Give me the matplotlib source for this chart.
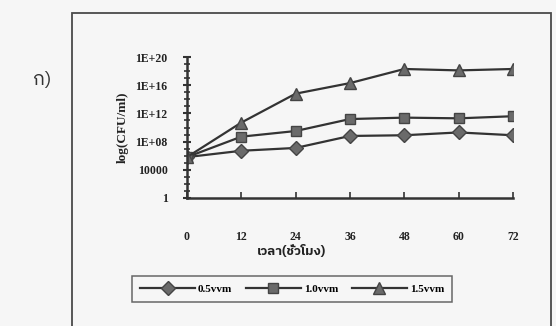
import numpy as np
import matplotlib
matplotlib.use("Agg")
from matplotlib import pyplot as plt
from matplotlib import font_manager
from matplotlib.patches import Rectangle
from matplotlib.ticker import FixedLocator, FixedFormatter, LogLocator, NullFormatter
from fontTools.ttLib import TTFont

# ---------------------------- data ----------------------------
hours = [0, 12, 24, 36, 48, 60, 72]
log_05vvm = [5.8, 6.7, 7.1, 8.8, 8.9, 9.3, 8.9]
log_10vvm = [5.8, 8.7, 9.5, 11.2, 11.4, 11.3, 11.6]
log_15vvm = [5.8, 10.7, 14.8, 16.3, 18.3, 18.1, 18.3]
series_names = ["0.5vvm", "1.0vvm", "1.5vvm"]
ytick_vals = [1, 1e4, 1e8, 1e12, 1e16, 1e20]
ytick_labels = ["1", "10000", "1E+08", "1E+12", "1E+16", "1E+20"]
xlabel = "เวลา(ชั่วโมง)"
ylabel = "log(CFU/ml)"
panel_tag = "ก)"


def find_thai_family():
    # pick an installed font that actually has Thai glyphs
    found = []
    for f in font_manager.fontManager.ttflist:
        try:
            font = TTFont(f.fname, fontNumber=0, lazy=True)
            cmap = font.getBestCmap()
        except Exception:
            continue
        if cmap and ord("ก") in cmap:
            found.append(f.name)
    if not found:
        return "DejaVu Sans"
    for name in found:
        if "Thai" in name and "Looped" not in name:
            return name
    return found[0]


thai = find_thai_family()
serif = ["Liberation Serif", "DejaVu Serif"]
ink = "#333333"
fill = "#6a6a6a"

fig = plt.figure(figsize=(5.56, 3.26), dpi=100)
fig.patch.set_facecolor("#f6f6f6")
W, H = 556.0, 326.0

# outer frame of the panel
fig.patches.append(Rectangle((72 / W, -0.05), (551 - 72) / W, 1.05 - 13 / H,
                             transform=fig.transFigure, fill=False,
                             edgecolor="#4a4a4a", linewidth=1.3))

ax = fig.add_axes([187 / W, 1 - 198 / H, (513 - 187) / W, (198 - 57) / H])
ax.set_facecolor("none")

x = np.array(hours)
ax.plot(x, 10 ** np.array(log_05vvm), color=ink, lw=1.6, marker="D",
        ms=7, mfc=fill, mec="#444444", label=series_names[0])
ax.plot(x, 10 ** np.array(log_10vvm), color=ink, lw=1.6, marker="s",
        ms=7.5, mfc=fill, mec="#444444", label=series_names[1])
ax.plot(x, 10 ** np.array(log_15vvm), color=ink, lw=1.6, marker="^",
        ms=9, mfc=fill, mec="#444444", label=series_names[2])

ax.set_yscale("log")
ax.set_ylim(1, 1e20)
ax.set_xlim(0, 72)
ax.yaxis.set_major_locator(FixedLocator(ytick_vals))
ax.yaxis.set_major_formatter(FixedFormatter(ytick_labels))
ax.yaxis.set_minor_locator(LogLocator(base=10, subs=(1.0,), numticks=30))
ax.yaxis.set_minor_formatter(NullFormatter())
ax.set_xticks(hours)

for side in ["top", "right"]:
    ax.spines[side].set_visible(False)
for side in ["left", "bottom"]:
    ax.spines[side].set_color(ink)
    ax.spines[side].set_linewidth(1.8)

ax.tick_params(axis="y", which="major", direction="inout", length=6, width=1.5,
               color=ink, pad=11, labelsize=8.5)
ax.tick_params(axis="y", which="minor", direction="inout", length=4, width=1.2, color=ink)
ax.tick_params(axis="x", direction="in", length=4, width=1.2, color=ink, pad=24, labelsize=8.5)
for lab in ax.get_xticklabels() + ax.get_yticklabels():
    lab.set_family(serif)
    lab.set_fontweight("bold")
    lab.set_color("#222222")

ax.set_ylabel(ylabel, family=serif, fontweight="bold", fontsize=9.5, color="#222222", labelpad=5)
ax.set_xlabel(xlabel, family=[thai, "DejaVu Sans"], fontweight="bold", fontsize=9.5,
              color="#222222", labelpad=1)
# the axis title sits left of the plot centre
ax.xaxis.set_label_coords((292 - 187) / (513 - 187), -(248 - 198) / (198 - 57) + 0.02)

leg = fig.legend(loc="center", bbox_to_anchor=(292 / W, 1 - 289 / H), ncol=3,
                 frameon=True, fancybox=False, handlelength=5.0, columnspacing=1.2,
                 handletextpad=0.25, borderpad=0.7, markerscale=1.0,
                 prop={"family": serif, "size": 8, "weight": "bold"})
leg.get_frame().set_edgecolor("#444444")
leg.get_frame().set_linewidth(1.1)
leg.get_frame().set_facecolor("none")

fig.text(42 / W, 1 - 80 / H, panel_tag, family=[thai, "DejaVu Sans"], fontsize=14,
         color="#333333", ha="center", va="center")

fig.savefig("out.png", dpi=100, facecolor=fig.get_facecolor())
